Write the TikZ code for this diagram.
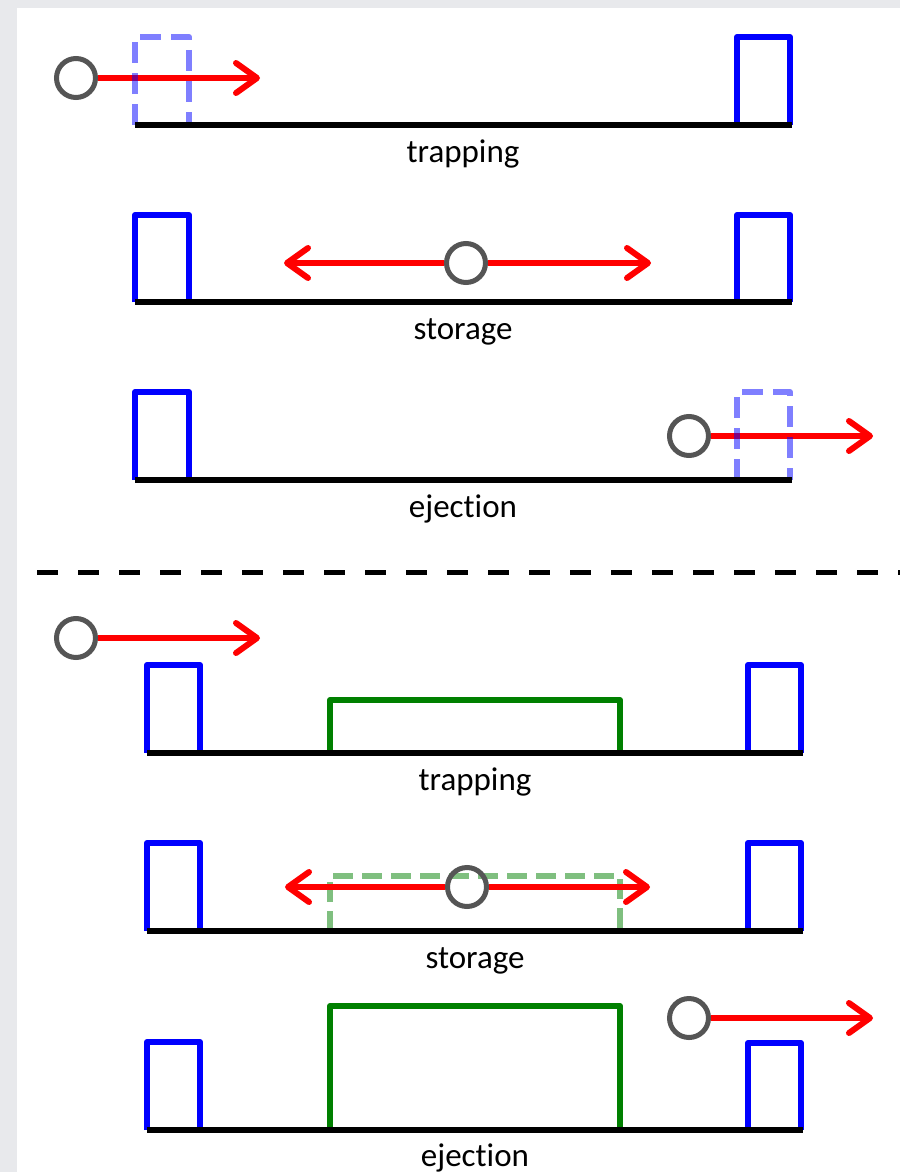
\documentclass[tikz,border=0pt]{standalone}
\usepackage{fontspec}
\setmainfont{Carlito}[Ligatures=NoCommon]
\usetikzlibrary{arrows.meta}

\definecolor{pagegrey}{HTML}{E8E9EC}
\definecolor{ballgrey}{HTML}{555555}
\definecolor{potgreen}{HTML}{008000}

\tikzset{
  floor/.style={line width=6pt, black},
  barrier/.style={blue, line width=6pt, line join=round},
  openbarrier/.style={blue, opacity=0.5, line width=6pt, line join=round,
                      dash pattern=on 21pt off 10pt},
  potential/.style={potgreen, line width=6pt, line join=round},
  openpotential/.style={potgreen, opacity=0.5, line width=6pt, line join=round,
                        dash pattern=on 20pt off 9pt},
  particle/.style={circle, draw=ballgrey, line width=5pt, minimum size=39pt,
                   inner sep=0pt},
  motion/.style={red, line width=6pt,
                 -{Straight Barb[length=21pt,width=30pt,round]}},
  caption/.style={anchor=base, font=\fontsize{33}{40}\selectfont, inner sep=0pt},
  divider/.style={line width=5pt, black, dash pattern=on 21pt off 20pt}
}

\begin{document}
\begin{tikzpicture}[x=1pt,y=-1pt]
  % page background
  \fill[pagegrey] (0,0) rectangle (900,1172);
  \fill[white] (17,8) rectangle (900,1172);
  \useasboundingbox (0,0) rectangle (900,1172);

  % ===== upper scheme: two gates only =====
  % trapping
  \node[particle] (p1) at (76,78) {};
  \coordinate (e1) at (260,78);
  \draw[motion] (p1.east) -- (e1);
  \draw[openbarrier] (135,125) -- (135,37) -- (189,37) -- (189,125);
  \draw[barrier] (737,125) -- (737,37) -- (790,37) -- (790,125);
  \draw[floor] (135,125) -- (792,125);
  \node[caption] (l1) at (463,162) {trapping};

  % storage
  \draw[barrier] (135,302) -- (135,215) -- (189,215) -- (189,302);
  \draw[barrier] (737,302) -- (737,215) -- (790,215) -- (790,302);
  \node[particle] (p2) at (466,263) {};
  \coordinate (w2) at (284,263);
  \coordinate (e2) at (651,263);
  \draw[motion] (p2.west) -- (w2);
  \draw[motion] (p2.east) -- (e2);
  \draw[floor] (135,302) -- (792,302);
  \node[caption] (l2) at (463,339) {storage};

  % ejection
  \draw[barrier] (135,480) -- (135,392) -- (189,392) -- (189,480);
  \node[particle] (p3) at (689,436) {};
  \coordinate (e3) at (873,436);
  \draw[motion] (p3.east) -- (e3);
  \draw[openbarrier] (737,480) -- (737,392) -- (790,392) -- (790,480);
  \draw[floor] (135,480) -- (792,480);
  \node[caption] (l3) at (463,517) {ejection};

  % separator
  \draw[divider] (37,572) -- (900,572);

  % ===== lower scheme: gates plus central potential =====
  % trapping
  \node[particle] (p4) at (76,638) {};
  \coordinate (e4) at (260,638);
  \draw[motion] (p4.east) -- (e4);
  \draw[barrier] (147,753) -- (147,665) -- (200,665) -- (200,753);
  \draw[potential] (330,753) -- (330,700) -- (620,700) -- (620,753);
  \draw[barrier] (748,753) -- (748,665) -- (801,665) -- (801,753);
  \draw[floor] (147,753) -- (803,753);
  \node[caption] (l4) at (475,790) {trapping};

  % storage
  \draw[barrier] (147,931) -- (147,843) -- (200,843) -- (200,931);
  \draw[openpotential] (330,931) -- (330,876) -- (620,876) -- (620,931);
  \draw[barrier] (748,931) -- (748,843) -- (801,843) -- (801,931);
  \node[particle] (p5) at (467,887) {};
  \coordinate (w5) at (285,887);
  \coordinate (e5) at (650,887);
  \draw[motion] (p5.west) -- (w5);
  \draw[motion] (p5.east) -- (e5);
  \draw[floor] (147,931) -- (803,931);
  \node[caption] (l5) at (475,968) {storage};

  % ejection
  \draw[barrier] (147,1130) -- (147,1042) -- (200,1042) -- (200,1130);
  \draw[potential] (330,1130) -- (330,1006) -- (620,1006) -- (620,1130);
  \draw[barrier] (748,1130) -- (748,1043) -- (801,1043) -- (801,1130);
  \node[particle] (p6) at (689,1018) {};
  \coordinate (e6) at (873,1018);
  \draw[motion] (p6.east) -- (e6);
  \draw[floor] (147,1130) -- (803,1130);
  \node[caption] (l6) at (475,1166) {ejection};
\end{tikzpicture}
\end{document}
